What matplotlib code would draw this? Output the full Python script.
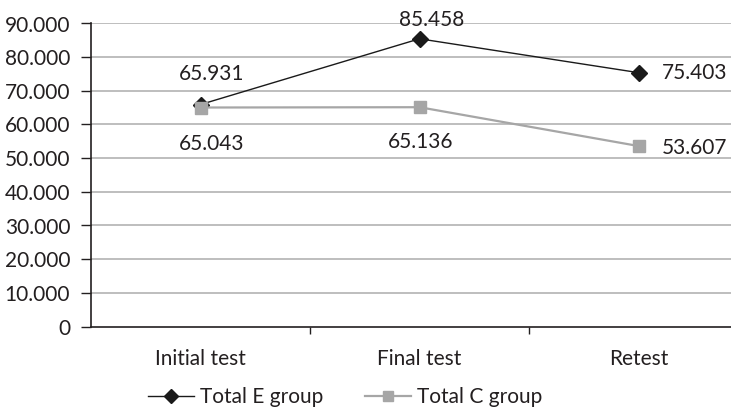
import matplotlib.pyplot as plt
from matplotlib.lines import Line2D

plt.rcParams['font.family'] = ['Lato', 'DejaVu Sans']

categories = ['Initial test', 'Final test', 'Retest']
e_group = [65.931, 85.458, 75.403]
c_group = [65.043, 65.136, 53.607]
y_ticks = [0, 10, 20, 30, 40, 50, 60, 70, 80, 90]

FS = 15
W, H = 731, 411
fig = plt.figure(figsize=(W / 100, H / 100), dpi=100)
# plot area runs past the right edge of the figure
ax = fig.add_axes([91 / W, (H - 326.5) / H, (748 - 91) / W, (326.5 - 23.5) / H])

x = list(range(len(categories)))
ax.plot(x, e_group, color='#1a1a1a', lw=1.0, marker='D', ms=8, zorder=3)
ax.plot(x, c_group, color='#a6a6a6', lw=1.6, marker='s', ms=8, zorder=4)

ax.set_xlim(-0.5, 2.5)
ax.set_ylim(0, 90)
ax.set_yticks(y_ticks)
ax.set_yticklabels(['0' if v == 0 else '%d.000' % v for v in y_ticks])
ax.set_xticks([0.5, 1.5])
ax.set_xticklabels([])
ax.set_xticks(x, minor=True)
ax.set_xticklabels(categories, minor=True)
ax.tick_params(axis='x', which='minor', length=0, pad=16, labelsize=FS, colors='#231f20')
ax.tick_params(axis='x', which='major', length=5, width=1, color='#231f20')
ax.tick_params(axis='y', length=7, width=1, color='#231f20', labelsize=FS,
               labelcolor='#231f20', pad=8)

for yv in y_ticks[1:]:
    ax.axhline(yv, color='#b3b3b3', lw=1.2, zorder=1)

for s in ['top', 'right']:
    ax.spines[s].set_visible(False)
ax.spines['left'].set_color('#231f20')
ax.spines['bottom'].set_color('#231f20')
ax.spines['left'].set_linewidth(1.2)
ax.spines['bottom'].set_linewidth(1.2)

lbl = dict(fontsize=FS, color='#231f20', textcoords='offset pixels', va='center')
e_off = [(11, 31, 'center'), (12, 19, 'center'), (23, 0, 'left')]
c_off = [(11, -36, 'center'), (1, -35, 'center'), (23, -2, 'left')]
for i, v in enumerate(e_group):
    dx, dy, ha = e_off[i]
    ax.annotate('%.3f' % v, (i, v), xytext=(dx, dy), ha=ha, **lbl)
for i, v in enumerate(c_group):
    dx, dy, ha = c_off[i]
    ax.annotate('%.3f' % v, (i, v), xytext=(dx, dy), ha=ha, **lbl)

handles = [
    Line2D([], [], color='#1a1a1a', lw=1.0, marker='D', ms=7),
    Line2D([], [], color='#a6a6a6', lw=1.6, marker='s', ms=7),
]
fig.legend(handles, ['Total E group', 'Total C group'], loc='center',
           bbox_to_anchor=(345 / W, 1 - 397 / H), ncol=2, frameon=False,
           fontsize=FS, handlelength=2.2, handletextpad=0.3, columnspacing=2.0,
           labelcolor='#231f20')

fig.savefig('out.png', dpi=100)
